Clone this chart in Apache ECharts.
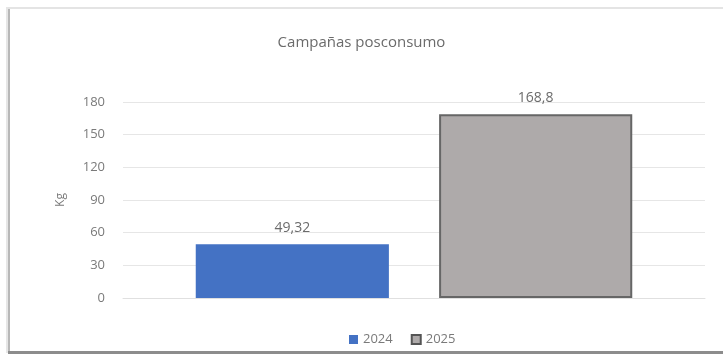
<!DOCTYPE html>
<html>
<head>
<meta charset="utf-8">
<style>
  html, body { margin: 0; padding: 0; background: #ffffff; }
  #chart { width: 723px; height: 354px; }
</style>
<script src="https://cdn.jsdelivr.net/npm/echarts@6/dist/echarts.min.js"></script>
</head>
<body>
<div id="chart"></div>
<script>
// Recovered-waste totals per campaign year
const categories = ['Campañas posconsumo'];
const seriesNames = ['2024', '2025'];
const values2024 = [49.32];
const values2025 = [168.8];
const yTicks = [0, 30, 60, 90, 120, 150, 180];

const fmt = v => String(v).replace('.', ',');
const font = '"Open Sans", "Liberation Sans", sans-serif';

const chart = echarts.init(document.getElementById('chart'), null, { renderer: 'canvas' });

chart.setOption({
  backgroundColor: '#ffffff',
  animation: false,
  title: {
    text: 'Campañas posconsumo',
    left: 'center',
    top: 30,
    textStyle: { color: '#6b6b6b', fontSize: 15, fontWeight: 'normal', fontFamily: font }
  },
  legend: {
    data: [
      { name: seriesNames[0], itemStyle: { color: '#4472c4' } },
      { name: seriesNames[1], itemStyle: { color: '#aeaaaa', borderColor: '#555555', borderWidth: 2 } }
    ],
    left: 344,
    top: 328,
    itemWidth: 9,
    itemHeight: 9,
    itemGap: 18,
    icon: 'rect',
    textStyle: { color: '#7a7a7a', fontSize: 13, fontFamily: font }
  },
  grid: { left: 123, right: 18, top: 102, bottom: 56, containLabel: false },
  xAxis: {
    type: 'category',
    data: categories,
    axisLine: { show: true, lineStyle: { color: '#e0e0e0' } },
    axisTick: { show: false },
    axisLabel: { show: false }
  },
  yAxis: {
    type: 'value',
    min: yTicks[0],
    max: yTicks[yTicks.length - 1],
    interval: 30,
    name: 'Kg',
    nameLocation: 'middle',
    nameRotate: 90,
    nameGap: 56,
    nameTextStyle: { color: '#7a7a7a', fontSize: 12, fontFamily: font },
    axisLine: { show: false },
    axisTick: { show: false },
    axisLabel: { color: '#7a7a7a', fontSize: 13, margin: 18, fontFamily: font },
    splitLine: { lineStyle: { color: '#e6e6e6', width: 1 } }
  },
  series: [
    {
      name: seriesNames[0],
      type: 'bar',
      data: values2024,
      barGap: '26%',
      barCategoryGap: '25%',
      itemStyle: { color: '#4472c4' },
      label: {
        show: true, position: 'top', distance: 9,
        color: '#6b6b6b', fontSize: 14, fontFamily: font,
        formatter: p => fmt(p.value)
      }
    },
    {
      name: seriesNames[1],
      type: 'bar',
      data: values2025,
      itemStyle: { color: '#aeaaaa', borderColor: '#666666', borderWidth: 2 },
      label: {
        show: true, position: 'top', distance: 9,
        color: '#6b6b6b', fontSize: 14, fontFamily: font,
        formatter: p => fmt(p.value)
      }
    }
  ],
  graphic: [
    // outer chart frame
    { type: 'rect', shape: { x: 6, y: 7, width: 2, height: 346 }, style: { fill: '#e6e6e6' }, silent: true },
    { type: 'rect', shape: { x: 8, y: 7, width: 2, height: 346 }, style: { fill: '#b8b8b8' }, silent: true },
    { type: 'rect', shape: { x: 8, y: 7, width: 715, height: 2 }, style: { fill: '#e4e4e4' }, silent: true },
    { type: 'rect', shape: { x: 8, y: 351, width: 715, height: 3 }, style: { fill: '#8c8c8c' }, silent: true }
  ]
});
</script>
</body>
</html>
